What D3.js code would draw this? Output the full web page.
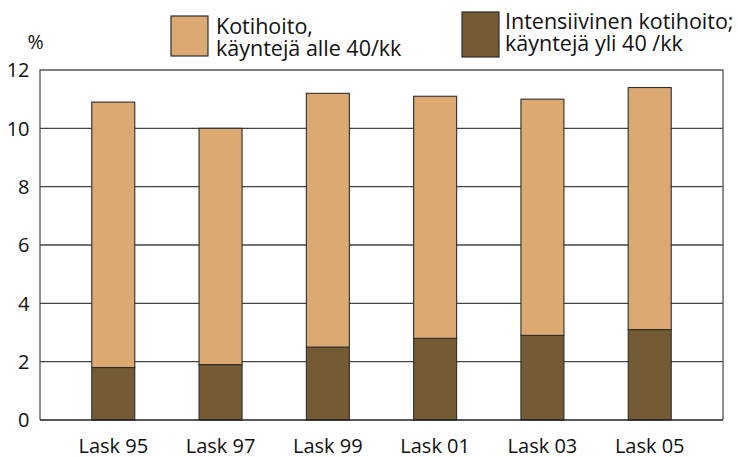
<!DOCTYPE html>
<html>
<head>
<meta charset="utf-8">
<script src="https://cdn.jsdelivr.net/npm/d3@7"></script>
<style>
  html, body { margin: 0; padding: 0; background: #fff; }
  svg { display: block; font-family: "Open Sans", sans-serif; }
</style>
</head>
<body>
<svg id="chart" width="738" height="457"></svg>
<script>
// Home-care clients, % — two stacked components per census year
const categories = ["Lask 95", "Lask 97", "Lask 99", "Lask 01", "Lask 03", "Lask 05"];
const intensive = [1.8, 1.9, 2.5, 2.8, 2.9, 3.1];   // käyntejä yli 40 /kk
const regular   = [9.1, 8.1, 8.7, 8.3, 8.1, 8.3];   // käyntejä alle 40/kk
const yTicks = [0, 2, 4, 6, 8, 10, 12];
const seriesNames = ["Kotihoito,\nkäyntejä alle 40/kk", "Intensiivinen kotihoito;\nkäyntejä yli 40 /kk"];
const colors = { regular: "#DBA971", intensive: "#745B34" };

const svg = d3.select("#chart");
const plot = { left: 40, right: 723, top: 70, bottom: 420 };

const x = d3.scalePoint().domain(categories).range([plot.left, plot.right]).padding(0.683);
const y = d3.scaleLinear().domain([0, 12]).range([plot.bottom, plot.top]);
const barW = 43;

// Frame (left, top, right)
svg.append("path")
  .attr("d", `M${plot.left},${plot.bottom}V${plot.top}H${plot.right}V${plot.bottom}`)
  .attr("fill", "none").attr("stroke", "#555").attr("stroke-width", 1.3);

// Horizontal gridlines
svg.append("g").selectAll("line")
  .data(yTicks.filter(t => t > 0 && t < 12))
  .join("line")
  .attr("x1", plot.left).attr("x2", plot.right)
  .attr("y1", d => y(d)).attr("y2", d => y(d))
  .attr("stroke", "#444").attr("stroke-width", 1.3);

// Stacked data
const rows = categories.map((c, i) => ({ cat: c, intensive: intensive[i], regular: regular[i] }));
const stack = d3.stack().keys(["intensive", "regular"])(rows);

svg.append("g").selectAll("g")
  .data(stack)
  .join("g")
  .attr("fill", d => colors[d.key])
  .selectAll("rect")
  .data(d => d)
  .join("rect")
  .attr("x", d => x(d.data.cat) - barW / 2)
  .attr("width", barW)
  .attr("y", d => y(d[1]))
  .attr("height", d => y(d[0]) - y(d[1]))
  .attr("stroke", "#2e2e2e")
  .attr("stroke-width", 1.1);

// Baseline
svg.append("line")
  .attr("x1", plot.left).attr("x2", plot.right)
  .attr("y1", plot.bottom).attr("y2", plot.bottom)
  .attr("stroke", "#222").attr("stroke-width", 1.5);

// Y axis labels
svg.append("g").selectAll("text")
  .data(yTicks)
  .join("text")
  .attr("x", 29.5).attr("y", d => y(d))
  .attr("dy", "0.36em")
  .attr("text-anchor", "end")
  .attr("font-size", 20)
  .attr("fill", "#111")
  .text(d => d);

svg.append("text")
  .attr("x", 35.5).attr("y", 48.5)
  .attr("text-anchor", "middle")
  .attr("font-size", 19.5)
  .attr("fill", "#111")
  .text("%");

// X axis labels
svg.append("g").selectAll("text")
  .data(categories)
  .join("text")
  .attr("x", d => x(d)).attr("y", 453)
  .attr("text-anchor", "middle")
  .attr("font-size", 20)
  .attr("fill", "#111")
  .text(d => d);

// Legend
const legend = [
  { name: seriesNames[0], color: colors.regular, bx: 171, by: 16, bw: 37, bh: 40, tx: 216, ty: 33.5 },
  { name: seriesNames[1], color: colors.intensive, bx: 462, by: 12, bw: 37, bh: 45, tx: 505, ty: 29 }
];
const lg = svg.append("g").selectAll("g").data(legend).join("g");
lg.append("rect")
  .attr("x", d => d.bx).attr("y", d => d.by)
  .attr("width", d => d.bw).attr("height", d => d.bh)
  .attr("fill", d => d.color)
  .attr("stroke", "#2e2e2e").attr("stroke-width", 1.2);
lg.append("text")
  .attr("font-size", 21.5)
  .attr("fill", "#111")
  .selectAll("tspan")
  .data(d => d.name.split("\n").map((t, i) => ({ t, i, d })))
  .join("tspan")
  .attr("x", o => o.d.tx)
  .attr("y", o => o.d.ty + o.i * 22)
  .text(o => o.t);
</script>
</body>
</html>
